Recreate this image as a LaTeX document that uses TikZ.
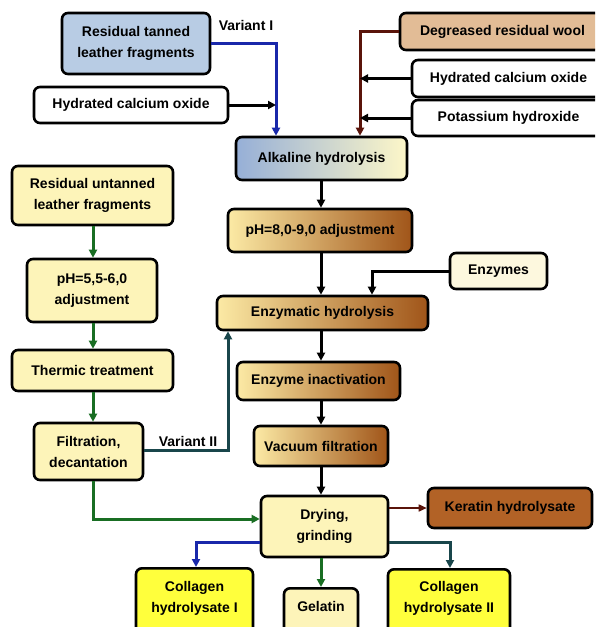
\documentclass[tikz,border=0pt]{standalone}
\usepackage{fontspec}
\setmainfont{Liberation Sans}
\usetikzlibrary{arrows.meta,calc}
\definecolor{cblue}{RGB}{25,40,170}
\definecolor{cgreen}{RGB}{25,110,35}
\definecolor{cteal}{RGB}{25,70,75}
\definecolor{cbrown}{RGB}{90,20,10}
\definecolor{ftanned}{RGB}{184,204,228}
\definecolor{fwool}{RGB}{226,188,150}
\definecolor{fker}{RGB}{178,98,38}
\definecolor{fyel}{RGB}{255,255,60}
\definecolor{flight}{RGB}{253,244,185}
\definecolor{fcream}{RGB}{253,248,222}
\definecolor{gblue}{RGB}{150,175,215}
\definecolor{gly}{RGB}{253,247,200}
\definecolor{gy}{RGB}{252,234,165}
\definecolor{gmid}{RGB}{232,188,115}
\definecolor{gbr}{RGB}{160,85,25}
\begin{document}
\begin{tikzpicture}[x=1pt,y=-1pt,
  box/.style={draw=black, line width=2.6pt, rounded corners=6pt, align=center,
    font=\bfseries\fontsize{14}{21}\selectfont, inner sep=0pt},
  txt/.style={align=center, font=\bfseries\fontsize{14}{21}\selectfont, inner sep=0pt},
  lbl/.style={font=\bfseries\fontsize{14}{17}\selectfont, inner sep=0pt},
  brgrad/.style={left color=gy, middle color=gmid, right color=gbr},
  arr/.style={line width=3pt, -{Triangle[length=8pt,width=8pt]}, rounded corners=0pt}
]
\path[use as bounding box] (0,0) rectangle (595,627);
\clip (0,0) rectangle (595,627);
\fill[white] (0,0) rectangle (595,627);

% top left
\node[box, fill=ftanned, minimum width=148, minimum height=61] (tanned) at (136,43.5) {Residual tanned\\leather fragments};
\node[box, fill=white, minimum width=194, minimum height=36] (hcoL) at (131,105) {Hydrated calcium oxide};
% top right
\node[box, fill=fwool, minimum width=205, minimum height=37] (wool) at (502.5,31.5) {Degreased residual wool};
\node[box, fill=white, minimum width=193, minimum height=37] (hcoR) at (508.5,78.5) {Hydrated calcium oxide};
\node[box, fill=white, minimum width=193, minimum height=36] (koh) at (508.5,118) {Potassium hydroxide};
% main column
\node[box, left color=gblue, right color=gly, minimum width=171, minimum height=43] (alk) at (321.5,158.5) {Alkaline hydrolysis};
\node[box, brgrad, minimum width=184, minimum height=43] (ph8) at (320,230.5) {pH=8,0-9,0 adjustment};
\node[box, fill=fcream, minimum width=97, minimum height=36] (enz) at (498.5,271) {Enzymes};
\node[box, brgrad, minimum width=211, minimum height=34] (enzh) at (322.5,313) {Enzymatic hydrolysis};
\node[box, brgrad, minimum width=163, minimum height=38] (inact) at (318.5,381) {Enzyme inactivation};
\node[box, brgrad, minimum width=134, minimum height=40] (vac) at (321,446) {Vacuum filtration};
\node[box, fill=flight, minimum width=127, minimum height=61] (dry) at (324.5,526.5) {Drying,\\grinding};
\node[box, fill=fker, minimum width=164, minimum height=40] (ker) at (510,508) {Keratin hydrolysate};
% bottom products
\node[box, fill=fyel, minimum width=117, minimum height=90, anchor=north] (c1) at (194.5,567) {};
\node[txt] (c1t) at (194.5,598) {Collagen\\hydrolysate I};
\node[box, fill=flight, minimum width=74, minimum height=90, anchor=north] (gel) at (321,587) {};
\node[txt] (gelt) at (321,606) {Gelatin};
\node[box, fill=fyel, minimum width=122, minimum height=90, anchor=north] (c2) at (449,568) {};
\node[txt] (c2t) at (449,598) {Collagen\\hydrolysate II};
% left column
\node[box, fill=flight, minimum width=161, minimum height=59] (unt) at (92.5,195.5) {Residual untanned\\leather fragments};
\node[box, fill=flight, minimum width=130, minimum height=63] (ph55) at (92,290.5) {pH=5,5-6,0\\adjustment};
\node[box, fill=flight, minimum width=161, minimum height=41] (therm) at (92.5,370.5) {Thermic treatment};
\node[box, fill=flight, minimum width=109, minimum height=57] (fil) at (88.5,451.5) {Filtration,\\decantation};

% labels
\node[lbl] (v1) at (246,25) {Variant I};
\node[lbl] (v2) at (188,441) {Variant II};

% helper coordinates
\coordinate (xa) at (276,0);
\coordinate (xw) at (360,0);
\coordinate (xe) at (372,0);
\coordinate (xg) at (93,0);
\coordinate (xv) at (228,450);
\coordinate (yk) at (0,508);
\coordinate (yp) at (0,542);
\coordinate (yf) at (0,519);
\coordinate (xc1) at (196,0);
\coordinate (xc2) at (450,0);
\coordinate (xm) at (321,0);

% variant I inputs
\draw[arr, cblue] (tanned.east) -| (alk.north -| xa);
\draw[arr, black] (hcoL.east) -- (hcoL.east -| xa);
\draw[arr, cbrown] (wool.west) -| (alk.north -| xw);
\draw[arr, black] (hcoR.west) -- (hcoR.west -| xw);
\draw[arr, black] (koh.west) -- (koh.west -| xw);
% main chain
\draw[arr] (alk.south -| xm) -- (ph8.north -| xm);
\draw[arr] (ph8.south -| xm) -- (enzh.north -| xm);
\draw[arr] (enz.west) -| (enzh.north -| xe);
\draw[arr] (enzh.south -| xm) -- (inact.north -| xm);
\draw[arr] (inact.south -| xm) -- (vac.north -| xm);
\draw[arr] (vac.south -| xm) -- (dry.north -| xm);
\draw[line width=1.6pt, cbrown, -{Triangle[length=8pt,width=7pt]}] (dry.east |- yk) -- (ker.west |- yk);
% products
\draw[arr, cgreen] (dry.south -| gel.north) -- (gel.north);
\draw[arr, cteal] (dry.east |- yp) -| (c2.north -| xc2);
\draw[arr, cblue] (dry.west |- yp) -| (c1.north -| xc1);
% left chain
\draw[arr, cgreen] (unt.south -| xg) -- (ph55.north -| xg);
\draw[arr, cgreen] (ph55.south -| xg) -- (therm.north -| xg);
\draw[arr, cgreen] (therm.south -| xg) -- (fil.north -| xg);
\draw[arr, cgreen] (fil.south -| xg) |- (dry.west |- yf);
\draw[arr, cteal] (fil.east |- xv) -| (enzh.south -| xv);
\end{tikzpicture}
\end{document}
